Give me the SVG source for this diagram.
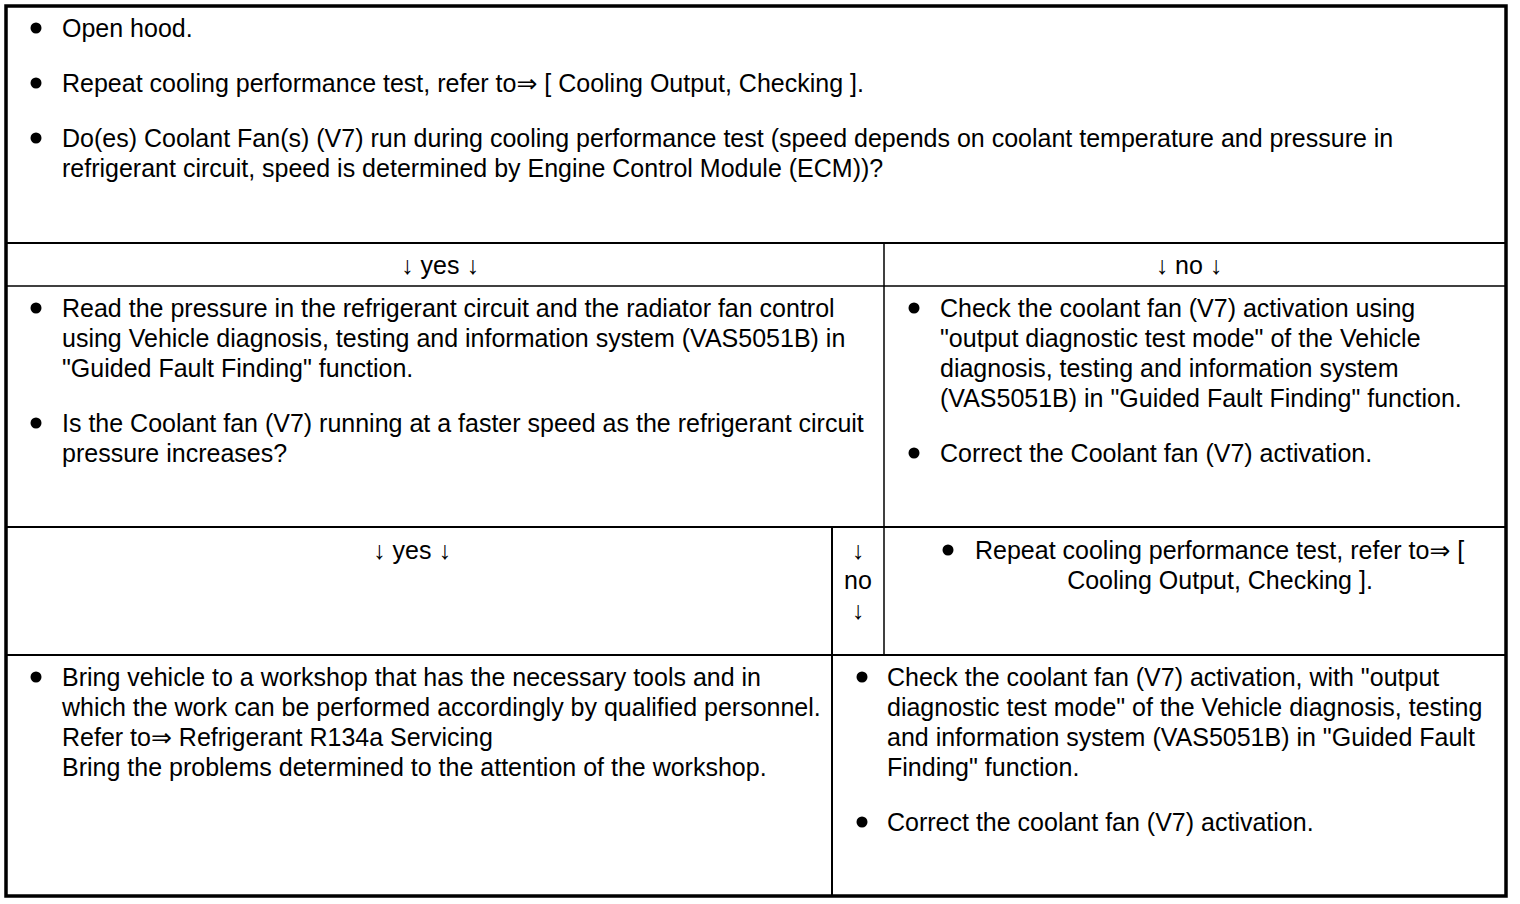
<svg xmlns="http://www.w3.org/2000/svg" width="1520" height="904" viewBox="0 0 1520 904">
<style>
text{font-family:"Liberation Sans",Arial,"DejaVu Sans",sans-serif;font-size:25px;fill:#000}
.m{text-anchor:middle}
.b{fill:#000}
.thin{stroke:#000;stroke-width:1.5;fill:none}
.thick{stroke:#000;stroke-width:2;fill:none}
</style>
<rect x="0" y="0" width="1520" height="904" fill="#fff"/>
<g id="grid">
<rect x="6" y="6" width="1500" height="890" fill="none" stroke="#000" stroke-width="3.5"/>
<line class="thick" x1="6" y1="243" x2="1506" y2="243"/>
<line class="thin" x1="6" y1="286" x2="1506" y2="286"/>
<line class="thin" x1="884" y1="243" x2="884" y2="655"/>
<line class="thick" x1="6" y1="527" x2="1506" y2="527"/>
<line class="thick" x1="832" y1="527" x2="832" y2="896"/>
<line class="thick" x1="6" y1="655" x2="1506" y2="655"/>
</g>
<g id="top">
<circle class="b" cx="36" cy="28" r="5.5"/>
<text x="62" y="37">Open hood.</text>
<circle class="b" cx="36" cy="83" r="5.5"/>
<text x="62" y="92">Repeat cooling performance test, refer to⇒ [ Cooling Output, Checking ].</text>
<circle class="b" cx="36" cy="138" r="5.5"/>
<text x="62" y="147">Do(es) Coolant Fan(s) (V7) run during cooling performance test (speed depends on coolant temperature and pressure in</text>
<text x="62" y="177">refrigerant circuit, speed is determined by Engine Control Module (ECM))?</text>
</g>
<g id="yes1">
<text class="m" x="440" y="274">↓ yes ↓</text>
</g>
<g id="no1">
<text class="m" x="1189" y="274">↓ no ↓</text>
</g>
<g id="read-pressure">
<circle class="b" cx="36" cy="308" r="5.5"/>
<text x="62" y="317">Read the pressure in the refrigerant circuit and the radiator fan control</text>
<text x="62" y="347">using Vehicle diagnosis, testing and information system (VAS5051B) in</text>
<text x="62" y="377">"Guided Fault Finding" function.</text>
<circle class="b" cx="36" cy="423" r="5.5"/>
<text x="62" y="432">Is the Coolant fan (V7) running at a faster speed as the refrigerant circuit</text>
<text x="62" y="462">pressure increases?</text>
</g>
<g id="check-activation-1">
<circle class="b" cx="914" cy="308" r="5.5"/>
<text x="940" y="317">Check the coolant fan (V7) activation using</text>
<text x="940" y="347">"output diagnostic test mode" of the Vehicle</text>
<text x="940" y="377">diagnosis, testing and information system</text>
<text x="940" y="407">(VAS5051B) in "Guided Fault Finding" function.</text>
<circle class="b" cx="914" cy="453" r="5.5"/>
<text x="940" y="462">Correct the Coolant fan (V7) activation.</text>
</g>
<g id="yes2">
<text class="m" x="412" y="559">↓ yes ↓</text>
</g>
<g id="no2">
<text class="m" x="858" y="559">↓</text>
<text class="m" x="858" y="589">no</text>
<text class="m" x="858" y="619">↓</text>
</g>
<g id="repeat-test">
<circle class="b" cx="948" cy="550" r="5.5"/>
<text x="975" y="559">Repeat cooling performance test, refer to⇒ [</text>
<text class="m" x="1220" y="589">Cooling Output, Checking ].</text>
</g>
<g id="workshop">
<circle class="b" cx="36" cy="677" r="5.5"/>
<text x="62" y="686">Bring vehicle to a workshop that has the necessary tools and in</text>
<text x="62" y="716">which the work can be performed accordingly by qualified personnel.</text>
<text x="62" y="746">Refer to⇒ Refrigerant R134a Servicing</text>
<text x="62" y="776">Bring the problems determined to the attention of the workshop.</text>
</g>
<g id="check-activation-2">
<circle class="b" cx="862" cy="677" r="5.5"/>
<text x="887" y="686">Check the coolant fan (V7) activation, with "output</text>
<text x="887" y="716">diagnostic test mode" of the Vehicle diagnosis, testing</text>
<text x="887" y="746">and information system (VAS5051B) in "Guided Fault</text>
<text x="887" y="776">Finding" function.</text>
<circle class="b" cx="862" cy="822" r="5.5"/>
<text x="887" y="831">Correct the coolant fan (V7) activation.</text>
</g>
</svg>
